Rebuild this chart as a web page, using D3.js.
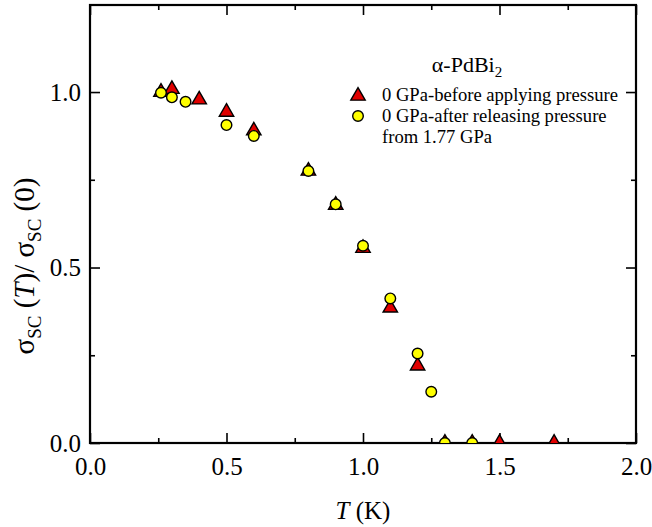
<!DOCTYPE html>
<html>
<head>
<meta charset="utf-8">
<script src="https://cdn.jsdelivr.net/npm/d3@7"></script>
<style>
  body { margin: 0; background: #fff; }
  svg { display: block; }
  text { font-family: "Liberation Serif", "Times New Roman", serif; fill: #000; }
</style>
</head>
<body>
<div id="chart"></div>
<script>
// data
let before_T = [0.26, 0.30, 0.40, 0.50, 0.60, 0.80, 0.90, 1.00, 1.10, 1.20, 1.30, 1.40, 1.50, 1.70];
let before_sigma = [1.00, 1.008, 0.978, 0.943, 0.890, 0.775, 0.678, 0.555, 0.385, 0.220, 0, 0, 0, 0];

let after_T = [0.26, 0.30, 0.35, 0.50, 0.60, 0.80, 0.90, 1.00, 1.10, 1.20, 1.25, 1.30, 1.40];
let after_sigma = [0.998, 0.985, 0.972, 0.906, 0.875, 0.775, 0.680, 0.562, 0.412, 0.255, 0.146, 0, 0];

let x_major = [0, 0.5, 1.0, 1.5, 2.0];
let x_minor = [0.25, 0.75, 1.25, 1.75];
let y_major = [0, 0.5, 1.0];
let y_minor = [0.25, 0.75];

// layout
let WIDTH = 652;
let HEIGHT = 527;
let LEFT = 90, RIGHT = 636, TOP = 5, BOTTOM = 443;

const svg = d3.select("#chart")
    .append("svg")
    .attr("width", WIDTH)
    .attr("height", HEIGHT);

const xScale = d3.scaleLinear().domain([0, 2]).range([LEFT, RIGHT]);
const yScale = d3.scaleLinear().domain([0, 1.248]).range([BOTTOM, TOP]);

svg.append("clipPath").attr("id", "plotclip")
    .append("rect")
    .attr("x", LEFT).attr("y", TOP)
    .attr("width", RIGHT - LEFT).attr("height", BOTTOM - TOP);

// axes, ticks pointing inward on all four sides
function styleAxis(g) {
    g.select(".domain").remove();
    g.selectAll("line").attr("stroke", "#000").attr("stroke-width", 1.6);
    g.selectAll("text").style("font-size", "25px");
}

svg.append("g")
    .attr("transform", `translate(0, ${BOTTOM})`)
    .call(d3.axisBottom(xScale).tickValues(x_major).tickSize(-10).tickPadding(14).tickFormat(d3.format(".1f")))
    .call(styleAxis);
svg.append("g")
    .attr("transform", `translate(0, ${BOTTOM})`)
    .call(d3.axisBottom(xScale).tickValues(x_minor).tickSize(-5).tickFormat(""))
    .call(styleAxis);
svg.append("g")
    .attr("transform", `translate(0, ${TOP})`)
    .call(d3.axisTop(xScale).tickValues(x_major).tickSize(-10).tickFormat(""))
    .call(styleAxis);
svg.append("g")
    .attr("transform", `translate(0, ${TOP})`)
    .call(d3.axisTop(xScale).tickValues(x_minor).tickSize(-5).tickFormat(""))
    .call(styleAxis);

svg.append("g")
    .attr("transform", `translate(${LEFT}, 0)`)
    .call(d3.axisLeft(yScale).tickValues(y_major).tickSize(-10).tickPadding(9).tickFormat(d3.format(".1f")))
    .call(styleAxis);
svg.append("g")
    .attr("transform", `translate(${LEFT}, 0)`)
    .call(d3.axisLeft(yScale).tickValues(y_minor).tickSize(-5).tickFormat(""))
    .call(styleAxis);
svg.append("g")
    .attr("transform", `translate(${RIGHT}, 0)`)
    .call(d3.axisRight(yScale).tickValues(y_major).tickSize(-10).tickFormat(""))
    .call(styleAxis);
svg.append("g")
    .attr("transform", `translate(${RIGHT}, 0)`)
    .call(d3.axisRight(yScale).tickValues(y_minor).tickSize(-5).tickFormat(""))
    .call(styleAxis);

// frame
svg.append("rect")
    .attr("x", LEFT).attr("y", TOP)
    .attr("width", RIGHT - LEFT).attr("height", BOTTOM - TOP)
    .attr("fill", "none")
    .attr("stroke", "#000")
    .attr("stroke-width", 2.2);

// markers
const tri = d3.symbol().type(d3.symbolTriangle).size(90);
const plot = svg.append("g").attr("clip-path", "url(#plotclip)");

plot.selectAll("path.before")
    .data(before_T.map((t, i) => ({ x: t, y: before_sigma[i] })))
    .join("path")
    .attr("class", "before")
    .attr("d", tri)
    .attr("transform", d => `translate(${xScale(d.x)}, ${yScale(d.y)})`)
    .attr("fill", "#e00000")
    .attr("stroke", "#000")
    .attr("stroke-width", 1.4);

plot.selectAll("circle.after")
    .data(after_T.map((t, i) => ({ x: t, y: after_sigma[i] })))
    .join("circle")
    .attr("class", "after")
    .attr("cx", d => xScale(d.x))
    .attr("cy", d => yScale(d.y))
    .attr("r", 5.3)
    .attr("fill", "#ffff00")
    .attr("stroke", "#000")
    .attr("stroke-width", 1.4);

// legend
const legend = svg.append("g");
const title = legend.append("text")
    .attr("x", 467).attr("y", 72)
    .attr("text-anchor", "middle")
    .style("font-size", "22px");
title.append("tspan").text("α-PdBi");
title.append("tspan").attr("dy", 5).style("font-size", "15px").text("2");

legend.append("path")
    .attr("d", tri)
    .attr("transform", "translate(358, 96)")
    .attr("fill", "#e00000").attr("stroke", "#000").attr("stroke-width", 1.4);
legend.append("circle")
    .attr("cx", 358).attr("cy", 116).attr("r", 5.3)
    .attr("fill", "#ffff00").attr("stroke", "#000").attr("stroke-width", 1.4);

let legend_lines = ["0 GPa-before applying pressure", "0 GPa-after releasing pressure", "from 1.77 GPa"];
legend.selectAll("text.entry")
    .data(legend_lines)
    .join("text")
    .attr("class", "entry")
    .attr("x", 382)
    .attr("y", (d, i) => 101 + i * 21)
    .style("font-size", "18.6px")
    .text(d => d);

// axis titles
const xt = svg.append("text")
    .attr("x", (LEFT + RIGHT) / 2).attr("y", 519)
    .attr("text-anchor", "middle")
    .style("font-size", "25px");
xt.append("tspan").style("font-style", "italic").text("T");
xt.append("tspan").text(" (K)");

const yt = svg.append("text")
    .attr("transform", "translate(34, 266) rotate(-90)")
    .attr("text-anchor", "middle")
    .style("font-size", "29px");
yt.append("tspan").text("σ");
yt.append("tspan").attr("dy", 7).style("font-size", "19px").text("SC");
yt.append("tspan").attr("dy", -7).text(" (");
yt.append("tspan").style("font-style", "italic").text("T");
yt.append("tspan").text(")/ σ");
yt.append("tspan").attr("dy", 7).style("font-size", "19px").text("SC");
yt.append("tspan").attr("dy", -7).text(" (0)");
</script>
</body>
</html>
